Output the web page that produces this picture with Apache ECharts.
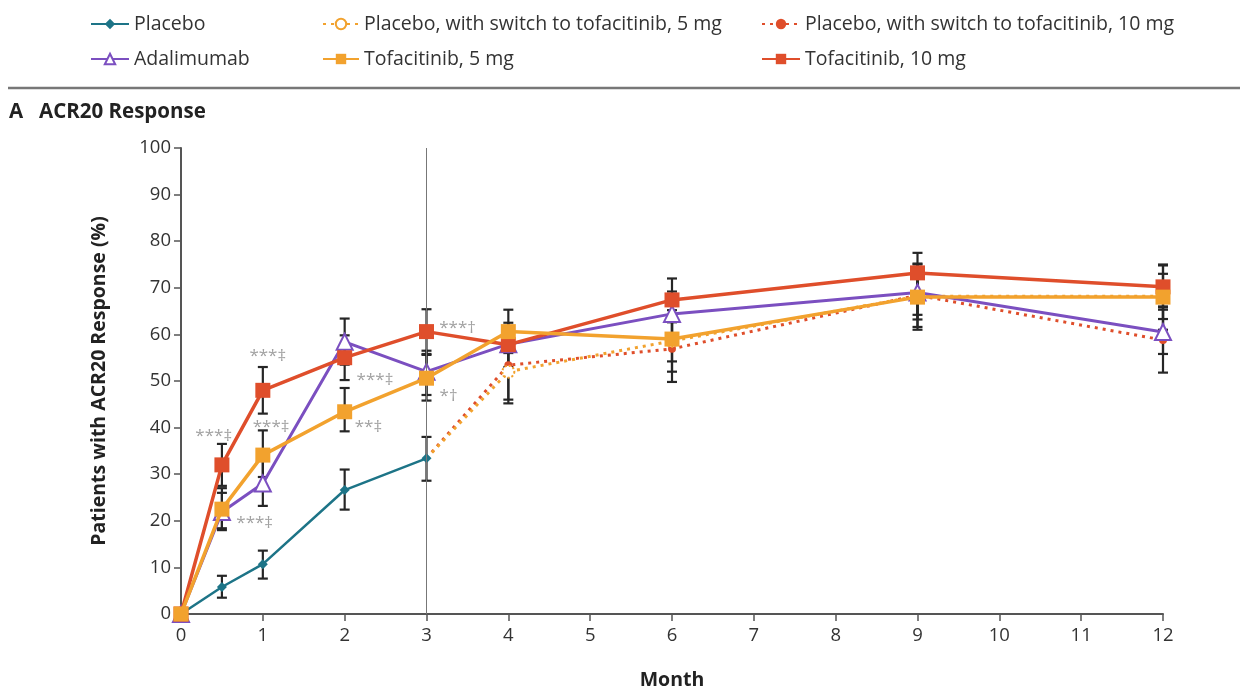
<!DOCTYPE html>
<html>
<head>
<meta charset="utf-8">
<script src="https://cdn.jsdelivr.net/npm/echarts@6/dist/echarts.min.js"></script>
<style>
  html, body { margin: 0; padding: 0; background: #fff; }
  #chart { width: 1240px; height: 689px; }
</style>
</head>
<body>
<div id="chart"></div>
<script>
// ACR20 response over 12 months, by treatment group
var months = [0, 0.5, 1, 2, 3, 4, 6, 9, 12];

var placebo      = [[0, 0], [0.5, 5.8], [1, 10.7], [2, 26.6], [3, 33.4]];
var adalimumab   = [[0, 0], [0.5, 21.9], [1, 28.0], [2, 58.4], [3, 52.0], [4, 57.9], [6, 64.4], [9, 69.0], [12, 60.5]];
var tofa5        = [[0, 0], [0.5, 22.5], [1, 34.1], [2, 43.4], [3, 50.6], [4, 60.6], [6, 59.0], [9, 68.0], [12, 68.0]];
var tofa10       = [[0, 0], [0.5, 32.0], [1, 48.0], [2, 55.0], [3, 60.6], [4, 57.8], [6, 67.4], [9, 73.2], [12, 70.2]];
var switchTofa5  = [[3, 33.4], [4, 52.0], [6, 58.6], [9, 68.2], [12, 68.2]];
var switchTofa10 = [[3, 33.4], [4, 53.4], [6, 56.9], [9, 68.4], [12, 58.8]];

// 95% confidence intervals: [month, lower, upper]
var placeboCI    = [[0.5, 3.5, 8.2], [1, 7.6, 13.6], [2, 22.4, 31.0], [3, 28.6, 38.0]];
var adalimumabCI = [[0.5, 18.0, 26.0], [1, 23.2, 33.0], [2, 53.5, 63.4], [3, 47.0, 56.5], [4, 53.0, 62.5], [6, 59.8, 69.2], [9, 64.2, 74.0], [12, 55.8, 65.3]];
var tofa5CI      = [[0.5, 18.4, 27.0], [1, 29.4, 39.4], [2, 39.2, 48.5], [3, 45.8, 55.6], [4, 56.0, 65.3], [6, 54.2, 63.8], [9, 63.2, 73.0], [12, 63.3, 73.0]];
var tofa10CI     = [[0.5, 27.5, 36.5], [1, 43.0, 53.0], [2, 50.2, 59.8], [3, 55.8, 65.4], [6, 62.6, 72.0], [9, 68.5, 77.5], [12, 65.8, 74.8]];
var switch5CI    = [[4, 45.2, 59.0], [6, 52.0, 65.2], [9, 61.0, 75.0], [12, 61.0, 75.0]];
var switch10CI   = [[4, 46.0, 60.6], [6, 49.8, 64.0], [9, 61.6, 75.2], [12, 51.8, 66.0]];

// significance markers: [month, percent, text]
var sigMarks = [
  [0.40, 38.2, '***‡'],
  [0.90, 19.6, '***‡'],
  [1.06, 55.4, '***‡'],
  [1.10, 40.1, '***‡'],
  [2.37, 50.2, '***‡'],
  [2.29, 40.1, '**‡'],
  [3.38, 61.4, '***†'],
  [3.27, 46.8, '*†']
];

var xTicks = [0, 1, 2, 3, 4, 5, 6, 7, 8, 9, 10, 11, 12];

var C_PLACEBO = '#1d7487';
var C_ADA = '#7b4fc0';
var C_T5 = '#f2a22e';
var C_T10 = '#df4e2b';
var FONT = 'Open Sans';

var ciAll = [].concat(placeboCI, adalimumabCI, tofa5CI, tofa10CI, switch5CI, switch10CI);

function errorBar(params, api) {
  var x = api.value(0);
  var lo = api.coord([x, api.value(1)]);
  var hi = api.coord([x, api.value(2)]);
  var hw = 5;
  var st = { stroke: '#262626', lineWidth: 2.2 };
  return {
    type: 'group',
    children: [
      { type: 'line', shape: { x1: hi[0], y1: hi[1], x2: lo[0], y2: lo[1] }, style: st },
      { type: 'line', shape: { x1: hi[0] - hw, y1: hi[1], x2: hi[0] + hw, y2: hi[1] }, style: st },
      { type: 'line', shape: { x1: lo[0] - hw, y1: lo[1], x2: lo[0] + hw, y2: lo[1] }, style: st }
    ]
  };
}

var legendText = { fontFamily: FONT, fontSize: 19.5, color: '#333' };

var chart = echarts.init(document.getElementById('chart'), null, { renderer: 'canvas' });
chart.setOption({
  backgroundColor: '#fff',
  animation: false,
  textStyle: { fontFamily: FONT },
  grid: { left: 181, right: 77, top: 148, bottom: 75, containLabel: false, outerBoundsMode: 'none' },
  legend: [
    { left: 85, top: 9, orient: 'vertical', itemGap: 15, itemWidth: 38, itemHeight: 13,
      data: ['Placebo', 'Adalimumab'], textStyle: legendText, selectedMode: false },
    { left: 317, top: 9, orient: 'vertical', itemGap: 15, itemWidth: 36, itemHeight: 13,
      data: ['Placebo, with switch to tofacitinib, 5 mg', 'Tofacitinib, 5 mg'], textStyle: legendText, selectedMode: false },
    { left: 756, top: 9, orient: 'vertical', itemGap: 15, itemWidth: 38, itemHeight: 13,
      data: ['Placebo, with switch to tofacitinib, 10 mg', 'Tofacitinib, 10 mg'], textStyle: legendText, selectedMode: false }
  ],
  graphic: [
    { type: 'line', shape: { x1: 8, y1: 88, x2: 1240, y2: 88 }, style: { stroke: '#777', lineWidth: 2.5 } },
    { type: 'text', left: 9, top: 102, style: { text: 'A', font: 'bold 20.5px "Open Sans"', fill: '#222' } },
    { type: 'text', left: 39, top: 102, style: { text: 'ACR20 Response', font: 'bold 20.5px "Open Sans"', fill: '#222' } }
  ],
  xAxis: {
    type: 'value', min: 0, max: 12, interval: 1,
    name: 'Month', nameLocation: 'middle', nameGap: 56,
    nameTextStyle: { fontFamily: FONT, fontSize: 19.5, fontWeight: 'bold', color: '#222' },
    axisLine: { lineStyle: { color: '#555', width: 2 } },
    axisTick: { length: 7, lineStyle: { color: '#555', width: 1.5 } },
    axisLabel: { fontSize: 18.5, color: '#333', margin: 12, customValues: xTicks },
    splitLine: { show: false }
  },
  yAxis: {
    type: 'value', min: 0, max: 100, interval: 10,
    name: 'Patients with ACR20 Response (%)', nameLocation: 'middle', nameGap: 72, nameRotate: 90,
    nameTextStyle: { fontFamily: FONT, fontSize: 19.5, fontWeight: 'bold', color: '#222' },
    axisLine: { show: true, lineStyle: { color: '#555', width: 2 } },
    axisTick: { show: true, length: 7, lineStyle: { color: '#555', width: 1.5 } },
    axisLabel: { fontSize: 18.5, color: '#333', margin: 10 },
    splitLine: { show: false }
  },
  series: [
    {
      name: 'CI', type: 'custom', renderItem: errorBar, data: ciAll, z: 1,
      encode: { x: 0, y: [1, 2] }, silent: true
    },
    {
      name: 'Placebo, with switch to tofacitinib, 10 mg', type: 'line', z: 2,
      data: switchTofa10.map(function (p, i) { return i === 0 ? { value: p, symbol: 'none' } : p; }),
      lineStyle: { color: C_T10, width: 3, type: [3, 5] },
      itemStyle: { color: C_T10 },
      symbol: 'circle', symbolSize: 8
    },
    {
      name: 'Placebo, with switch to tofacitinib, 5 mg', type: 'line', z: 2,
      data: switchTofa5.map(function (p, i) { return i === 0 ? { value: p, symbol: 'none' } : p; }),
      lineStyle: { color: C_T5, width: 3, type: [3, 5] },
      itemStyle: { color: '#fff', borderColor: C_T5, borderWidth: 2, borderType: 'dotted' },
      symbol: 'circle', symbolSize: 12,
      markLine: {
        silent: true, symbol: 'none', label: { show: false },
        lineStyle: { color: '#777', width: 1, type: 'solid' },
        data: [{ xAxis: 3 }]
      }
    },
    {
      name: 'Placebo', type: 'line', z: 3, data: placebo,
      lineStyle: { color: C_PLACEBO, width: 2.5 },
      itemStyle: { color: C_PLACEBO },
      symbol: 'diamond', symbolSize: 10
    },
    {
      name: 'Adalimumab', type: 'line', z: 4, data: adalimumab,
      lineStyle: { color: C_ADA, width: 3 },
      itemStyle: { color: '#fff', borderColor: C_ADA, borderWidth: 2 },
      symbol: 'triangle', symbolSize: 16
    },
    {
      name: 'Tofacitinib, 10 mg', type: 'line', z: 5, data: tofa10,
      lineStyle: { color: C_T10, width: 3.5 },
      itemStyle: { color: C_T10 },
      symbol: 'rect', symbolSize: 15
    },
    {
      name: 'Tofacitinib, 5 mg', type: 'line', z: 6, data: tofa5,
      lineStyle: { color: C_T5, width: 3.5 },
      itemStyle: { color: C_T5 },
      symbol: 'rect', symbolSize: 15
    },
    {
      name: 'sig', type: 'scatter', z: 7, silent: true, symbolSize: 0,
      data: sigMarks.map(function (d) { return { value: [d[0], d[1]], text: d[2] }; }),
      label: {
        show: true, position: 'inside', fontFamily: FONT, fontSize: 17, color: '#8a8a8a',
        formatter: function (p) { return p.data.text; }
      }
    }
  ]
});
</script>
</body>
</html>
